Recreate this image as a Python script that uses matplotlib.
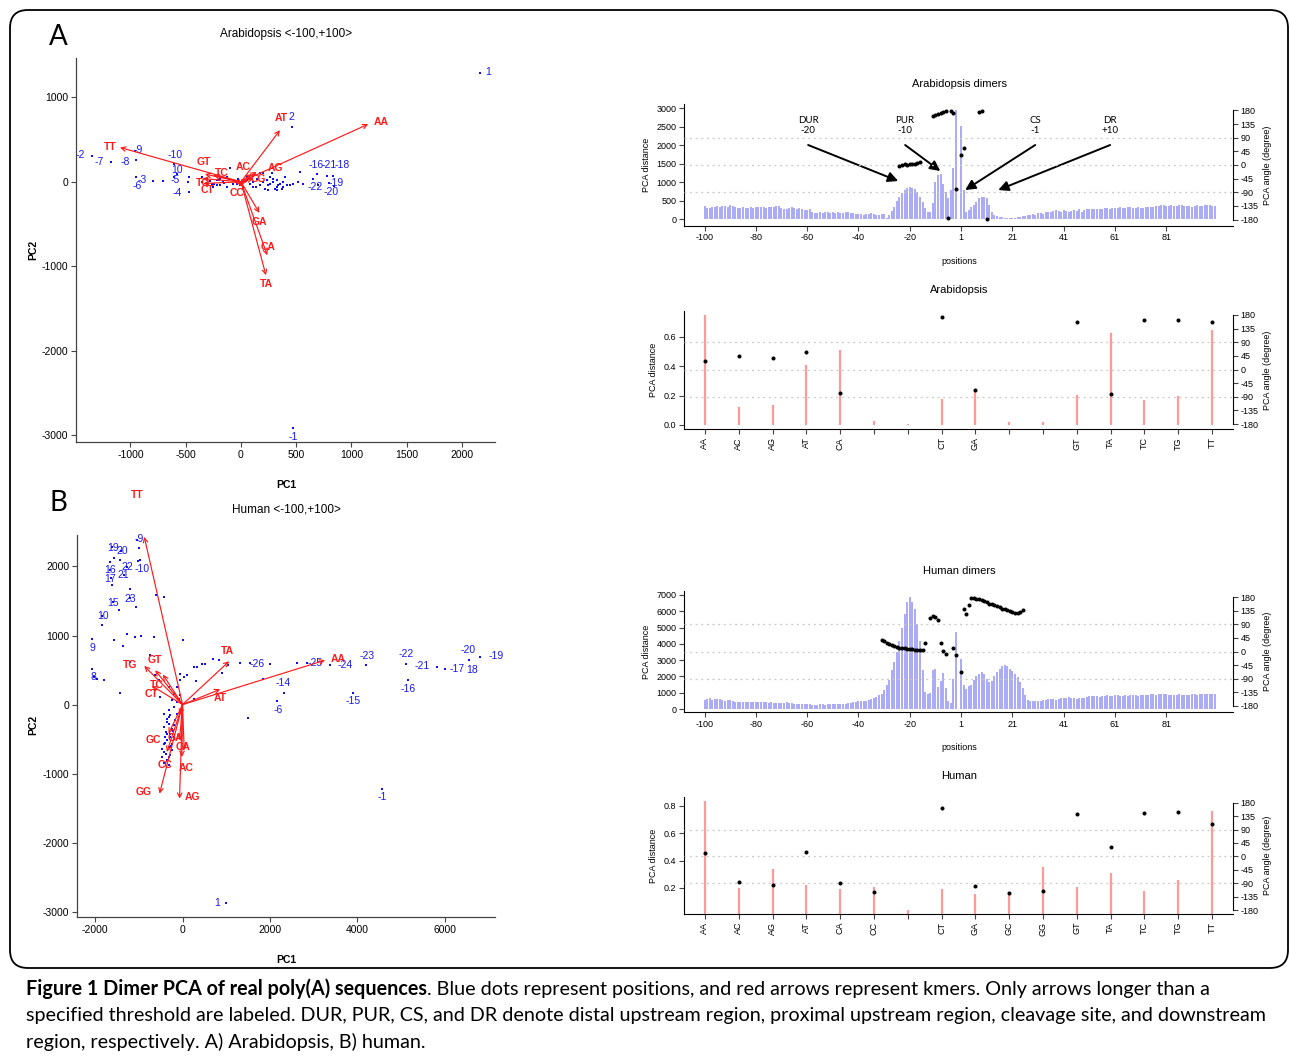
"""Dimer PCA of real poly(A) sequences: biplots plus distance/angle profiles."""

import matplotlib
matplotlib.use("Agg")
import matplotlib.pyplot as plt
import numpy as np
from matplotlib.patches import FancyBboxPatch

# ==============================================================================
# CONFIG
# ==============================================================================

W, H = 1290, 1057
DPI = 100
R_FONT = ["Liberation Sans", "DejaVu Sans"]
CAP_FONT = ["Lato", "Open Sans", "DejaVu Sans"]
BLUE_BAR = "#9393f4"
RED_BAR = "#ff9a9a"
GRID = "#c8c8c8"

# ==============================================================================
# DATA
# ==============================================================================

KMERS = ["AA", "AC", "AG", "AT", "CA", "CC", "CG", "CT",
         "GA", "GC", "GG", "GT", "TA", "TC", "TG", "TT"]

# positions -100..-1, 1..100 (no zero)
POSITIONS = list(range(-100, 0)) + list(range(1, 101))

ARA_DIST = [
    360, 300, 310, 320, 330, 340, 330, 350, 340, 330,
    380, 350, 320, 300, 310, 320, 300, 310, 320, 290,
    330, 320, 330, 320, 310, 330, 320, 330, 340, 350,
    300, 280, 260, 300, 330, 310, 280, 300, 280, 240,
    250, 260, 200, 160, 170, 180, 170, 190, 200, 170,
    180, 150, 190, 160, 170, 190, 200, 170, 160, 130,
    140, 130, 120, 140, 130, 150, 140, 120, 110, 130,
    130, 30, 120, 220, 330, 480, 600, 700, 780, 830,
    860, 850, 800, 720, 600, 470, 300, 200, 200, 420,
    1000, 1190, 1215, 960, 740, 560, 780, 1370, 2950, 0,
    2520, 780, 200, 240, 330, 380, 470, 560, 590, 600,
    560, 380, 180, 110, 80, 60, 50, 40, 40, 40,
    30, 40, 50, 60, 80, 90, 100, 120, 130, 120,
    150, 160, 140, 180, 200, 190, 220, 240, 230, 200,
    250, 230, 200, 220, 250, 230, 260, 200, 240, 270,
    280, 260, 270, 280, 270, 280, 300, 290, 280, 300,
    310, 300, 320, 310, 300, 330, 320, 310, 300, 320,
    310, 300, 320, 330, 320, 330, 340, 360, 380, 370,
    360, 350, 370, 360, 350, 370, 380, 360, 350, 340,
    330, 360, 370, 350, 360, 380, 390, 370, 360, 350,
]
ARA_ANG_POS = [-24, -23, -22, -21, -20, -19, -18, -17, -16,
               -11, -10, -9, -8, -7, -6, -5, -4, -3, -2, 1, 2, 8, 9, 11]
ARA_ANG = [-3, 1, 2, 1, 3, 4, 3, 6, 9,
           162, 165, 168, 170, 173, 177, -176, 179, 170, -78, 33, 57, 176, 178, -177]

HUM_DIST = [
    570, 600, 650, 580, 600, 620, 600, 560, 520, 580,
    560, 480, 400, 400, 420, 420, 430, 420, 440, 420,
    420, 440, 450, 440, 400, 380, 400, 390, 380, 390,
    380, 360, 400, 380, 370, 320, 280, 300, 290, 300,
    290, 300, 250, 230, 260, 300, 280, 250, 280, 300,
    290, 280, 300, 280, 320, 300, 340, 360, 400, 460,
    480, 470, 500, 520, 580, 620, 680, 750, 830, 950,
    1160, 1460, 1770, 2380, 2890, 3500, 4200, 5000, 5830, 6540,
    6850, 6540, 6140, 5220, 4200, 2380, 1060, 950, 1000, 2380,
    2480, 1360, 1730, 2240, 1260, 490, 350, 1870, 4750, 0,
    3090, 1500, 1220, 1400, 1500, 1800, 2000, 2170, 2300, 2170,
    1870, 1670, 1730, 2000, 2270, 2480, 2620, 2680, 2620, 2480,
    2340, 2170, 1970, 1670, 1300, 850, 550, 490, 480, 500,
    510, 520, 560, 580, 600, 610, 620, 560, 600, 650,
    660, 700, 720, 700, 680, 640, 690, 700, 680, 720,
    780, 800, 790, 780, 760, 800, 820, 840, 800, 820,
    860, 830, 800, 820, 840, 820, 830, 850, 830, 820,
    840, 870, 880, 860, 900, 910, 880, 900, 920, 900,
    910, 870, 880, 860, 880, 900, 880, 870, 890, 880,
    900, 910, 880, 900, 940, 930, 950, 940, 920, 900,
]
HUM_ANG_POS = [-31, -30, -29, -28, -27, -26, -25, -24, -23, -22, -21, -20, -19, -18, -17, -16, -15,
               -14, -12, -11, -10, -9, -8, -7, -6, -3, -2, 1,
               2, 3, 4, 5, 6, 7, 8, 9, 10, 11, 12, 13, 14, 15, 16, 17, 18, 19, 20,
               21, 22, 23, 24, 25]
HUM_ANG = [39, 34, 29, 25, 21, 18, 15, 13, 11, 10, 9, 8, 7, 6, 6, 5, 5,
           28, 110, 116, 114, 104, 29, 3, -8, 12, -13, -68,
           140, 125, 155, 178, 176, 174, 173, 170, 166, 163, 158, 157, 153, 149, 146, 142, 139, 136, 133,
           130, 128, 128, 130, 136]

ARA_KMER_DIST = [0.75, 0.125, 0.135, 0.41, 0.51, 0.03, 0.01, 0.175,
                 0.245, 0.02, 0.02, 0.205, 0.63, 0.17, 0.20, 0.65]
ARA_KMER_ANG = [29, 45, 37, 59, -78, None, None, 175,
                -69, None, None, 158, -80, 162, 162, 156]
ARA_KMER_TICKS = ["AA", "AC", "AG", "AT", "CA", "", "", "CT",
                  "GA", "", "", "GT", "TA", "TC", "TG", "TT"]

HUM_KMER_DIST = [0.835, 0.20, 0.34, 0.22, 0.19, 0.21, 0.04, 0.195,
                 0.155, 0.17, 0.35, 0.205, 0.31, 0.175, 0.26, 0.765]
HUM_KMER_ANG = [11, -87, -95, 15, -89, -120, None, 161,
                -98, -124, -115, 143, 31, 144, 149, 110]
HUM_KMER_TICKS = ["AA", "AC", "AG", "AT", "CA", "CC", "", "CT",
                  "GA", "GC", "GG", "GT", "TA", "TC", "TG", "TT"]

# biplot A (Arabidopsis): position scores
ARA_PC1 = [2163, 467, 458, -1351, -1180, -950, -960, -603, -582, -950, -793, -703, -603,
           -468, -468, 685, 775, 835, 655, 800, 840, 700,
           -356, -311, -265, -220, -160, -130, -100, -69, -24, -9, 51, 81, 112, 142, 172,
           202, 232, 248, 262, 293, 308, 323, 338, 353, 368, 383, 398, 413, 202, 277, 519,
           534, 564, 51, 112, 323, -130, -190, -250, -311, -356, -190, -220, -477, 172, 293,
           383, 443, 474, 248, 217, -39, -280, -240, -200, -150, -110, -60, 20, 140, 260, 330]
ARA_PC2 = [1291, -2911, 652, 308, 229, 257, 370, 209, 91, 59, 12, 12, 59,
           59, -118, 91, 71, 71, 39, -10, -50, -40,
           59, 39, -20, 20, 0, 59, 166, -20, 39, -39, 20, -20, 0, 39, -39,
           0, 20, -39, -20, 0, -79, 20, -39, -20, -79, 0, 59, -39, 99, 99, 0,
           118, -20, 59, -59, -99, -59, -39, -59, -20, 0, 39, -39, 0, 99, 39,
           -59, -39, -20, -99, -79, -20, 10, -30, 25, -15, 30, 5, -60, -60, 60, -60]
ARA_POS_LABELS = ["1", "-1", "2", "-2", "-7", "-8", "-9", "-10", "10", "-3", "-6",
                  "-5", "-4", "-16", "-21", "-18", "-22", "-19", "-20"]
ARA_LAB_PC1 = [2238, 474, 458, -1457, -1285, -1050, -929, -597, -582, -890, -944,
               -597, -576, 680, 800, 915, 670, 860, 820]
ARA_LAB_PC2 = [1295, -3021, 770, 316, 237, 237, 375, 316, 138, 20, -47,
               20, -138, 197, 197, 197, -59, -15, -125]

ARA_ARROW_PC1 = [1152, 97, 142, 353, 238, -9, 112, -341, 166, -60, 60, -326, 226, -250, -347, -1095]
ARA_ARROW_PC2 = [683, 91, 118, 612, -869, -59, 39, -20, -367, -10, 5, 91, -1106, 79, 39, 407]
ARA_ARROW_LABELS = ["AA", "AC", "AG", "AT", "CA", "CC", "CG", "CT",
                    "GA", "", "", "GT", "TA", "TC", "TG", "TT"]
ARA_ARROW_LAB_PC1 = [1273, 21, 314, 362, 241, -39, 157, -302, 166, 0, 0, -332, 232, -175, -347, -1186]
ARA_ARROW_LAB_PC2 = [703, 178, 158, 758, -770, -130, 28, -91, -474, 0, 0, 237, -1205, 99, -12, 415]

# biplot B (human): position scores
HUM_PC1 = [-1050, -1620, -1410, -1670, -1260, -1010, -1640, -1350, -1590, -1200, -1845, -2072, -2034,
           1547, 2842, 3375, 4198, 5105, 5813, 6550, 6804, 6000, 6560, 2310, 5166, 3910, 2170, 4556, 990,
           -1669, -1577, -1425, -1006, -983, -1615, -1196, -1463, -1844, -1059, -602, -434, -1577,
           -1272, -1082, -952, -648, -1364, -1196, -739, -2072, -1958, -1806, -1425, -510, -625,
           -548, -320, -206, -130, -53, 8, -53, 23, 99, 251, 328, 442, 518, 686, 823, 907, 1051,
           1318, 2004, 2613, 312, 251, 1493, 1836,
           -434, -358, -320, -434, -373, -282, -358, -434, -320, -419, -472, -358, -434, -282,
           -244, -244, -206, -244, -168, -130, -320, -206, -130, -91, -69, -244, -297, -411,
           -472, -320, -381, -190, -358, -282, -320, -400, -350, -300, -260, -220]
HUM_PC2 = [2390, 2280, 2230, 1950, 1990, 2080, 1830, 1870, 1480, 1540, 1285, 956, 401,
           604, 604, 570, 570, 585, 546, 650, 691, 520, 640, 174, 353, 174, 53, -1217, -2874,
           2068, 2130, 2092, 2261, 2092, 1729, 1667, 1367, 1150, 1415, 1585, 1551, 942,
           1019, 981, 990, 981, 850, 618, 715, 522, 377, 353, 174, 111, 425,
           353, 256, 159, 256, 353, 942, 449, 401, 435, 546, 546, 585, 585, 657, 643, 459, 570,
           604, 585, 604, 338, 87, -188, 367,
           -130, -203, -275, -324, -396, -420, -517, -565, -614, -686, -758, -807, -845, -734,
           -662, -565, -469, -348, -227, -130, -82, -34, 39, 87, 135, 63, -469, -469,
           -638, -879, -710, -300, -420, -155, -179, -560, -250, -760, -600, -380]
HUM_POS_LABELS = ["-9", "19", "20", "16", "22", "-10", "17", "21", "15", "23", "10", "9", "8",
                  "-26", "-25", "-24", "-23", "-22", "-21", "-20", "-19", "-17", "18",
                  "-14", "-16", "-15", "-6", "-1", "1"]
HUM_LAB_PC1 = [-983, -1600, -1370, -1669, -1257, -930, -1653, -1349, -1592, -1196, -1829, -2072, -2034,
               1699, 3032, 3718, 4213, 5105, 5470, 6537, 7170, 6270, 6629,
               2309, 5166, 3909, 2194, 4556, 785]
HUM_LAB_PC2 = [2391, 2271, 2227, 1947, 1986, 1957, 1816, 1874, 1478, 1536, 1285, 826, 401,
               594, 604, 570, 705, 729, 556, 787, 710, 522, 498,
               319, 232, 48, -82, -1338, -2870]

HUM_ARROW_PC1 = [3261, -15, -69, 861, 38, -358, -60, -701, -69, -320, -526, -625, 1067, -450, -876, -876]
HUM_ARROW_PC2 = [643, -758, -1362, 222, -662, -686, -150, 271, -517, -420, -1290, 498, 628, 435, 560, 2430]
HUM_ARROW_LABELS = ["AA", "AC", "AG", "AT", "CA", "CC", "", "CT",
                    "GA", "GC", "GG", "GT", "TA", "TC", "TG", "TT"]
HUM_ARROW_LAB_PC1 = [3566, 76, 236, 861, 23, -411, 0, -716, -168, -663, -891, -625, 1029, -587, -1196, -1044]
HUM_ARROW_LAB_PC2 = [667, -918, -1338, 97, -614, -870, 0, 159, -478, -517, -1266, 652, 778, 280, 580, 3034]

CAPTION_BOLD = "Figure 1 Dimer PCA of real poly(A) sequences"
CAPTION_LINES = [
    ". Blue dots represent positions, and red arrows represent kmers. Only arrows longer than a",
    "specified threshold are labeled. DUR, PUR, CS, and DR denote distal upstream region, "
    "proximal upstream region, cleavage site, and downstream",
    "region, respectively. A) Arabidopsis, B) human.",
]

# ==============================================================================
# HELPERS
# ==============================================================================


def px_axes(fig, left, top, right, bottom):
    """Add axes from pixel edges (origin top-left)."""
    return fig.add_axes([left / W, 1 - bottom / H, (right - left) / W, (bottom - top) / H])


def style_ticks(ax, size=7):
    ax.tick_params(labelsize=size, length=3.5, width=0.8, color="#444444", pad=2)
    for lab in ax.get_xticklabels() + ax.get_yticklabels():
        lab.set_family(R_FONT)


def plot_biplot(fig, rect, xlim, ylim, xticks, yticks, pc1, pc2, labs, lab_x, lab_y,
                arr_x, arr_y, arr_labs, arr_lab_x, arr_lab_y):
    ax = px_axes(fig, *rect)
    ax.set_xlim(xlim)
    ax.set_ylim(ylim)
    for side in ("top", "right"):
        ax.spines[side].set_visible(False)
    for side in ("left", "bottom"):
        ax.spines[side].set_linewidth(0.9)
        ax.spines[side].set_color("#444444")
    ax.set_xticks(xticks)
    ax.set_yticks(yticks)
    style_ticks(ax, 7.5)

    ax.scatter(pc1, pc2, s=4, marker="s", color="#1010ee", linewidths=0, zorder=2)
    for t, x, y in zip(labs, lab_x, lab_y):
        ax.text(x, y, t, color="#1a1aee", fontsize=7.5, family=R_FONT,
                ha="center", va="center", zorder=3)

    for x, y in zip(arr_x, arr_y):
        ax.annotate("", xy=(x, y), xytext=(0, 0),
                    arrowprops=dict(arrowstyle="->", color="#ff1a1a", lw=0.85,
                                    mutation_scale=8, shrinkA=0, shrinkB=0), zorder=4)
    for t, x, y in zip(arr_labs, arr_lab_x, arr_lab_y):
        if t:
            ax.text(x, y, t, color="#ff1a1a", fontsize=7.5, family=R_FONT,
                    fontweight="bold", ha="center", va="center", zorder=5)
    return ax


def add_angle_axis(ax, rlim):
    ax2 = ax.twinx()
    ax2.set_ylim(rlim)
    ax2.set_yticks(np.arange(-180, 181, 45))
    ax2.spines["right"].set_bounds(-180, 180)
    for side in ("top", "left", "bottom"):
        ax2.spines[side].set_visible(False)
    style_ticks(ax2, 6.5)
    ax2.set_ylabel("PCA angle (degree)", fontsize=6.5, family=R_FONT, labelpad=3)
    for g in (-90, 0, 90):
        ax2.axhline(g, color=GRID, ls=(0, (1.5, 3)), lw=0.9, zorder=0)
    return ax2


def plot_profile(fig, rect, dist, ang_pos, ang, ylim, yticks, annotate=False):
    ax = px_axes(fig, *rect)
    x = np.arange(len(POSITIONS))
    ax.vlines(x, 0, dist, color=BLUE_BAR, lw=1.1)
    ax.set_xlim(-8, 206)
    ax.set_ylim(ylim)
    ax.set_yticks(yticks)
    ax.set_xticks(x[::20])
    ax.set_xticklabels([str(p) for p in POSITIONS[::20]])
    ax.spines["top"].set_visible(False)
    ax.spines["right"].set_visible(False)
    style_ticks(ax, 6.5)
    ax.set_ylabel("PCA distance", fontsize=6.5, family=R_FONT, labelpad=4)

    ax2 = add_angle_axis(ax, (-200, 200))
    idx = [POSITIONS.index(p) for p in ang_pos]
    ax2.plot(idx, ang, "o", color="black", ms=1.9, zorder=3)

    if annotate:
        regions = [("DUR", "-20", 40.4, 75.5, 1027), ("PUR", "-10", 78.2, 91.9, 1297),
                   ("CS", "-1", 128.9, 101.6, 784), ("DR", "+10", 158.1, 114.5, 784)]
        for name, pos, xt, xtip, ytip in regions:
            ax.text(xt, 2540, f"{name}\n{pos}", ha="center", va="center", fontsize=7,
                    family=CAP_FONT, linespacing=1.15)
            ax.annotate("", xy=(xtip, ytip), xytext=(xt, 2000),
                        arrowprops=dict(arrowstyle="-|>", color="black", lw=1.4,
                                        mutation_scale=15, shrinkA=0, shrinkB=0))
    return ax


def plot_kmers(fig, rect, dist, ang, ticks, ylim, yticks, rlim):
    ax = px_axes(fig, *rect)
    x = np.arange(len(KMERS))
    ax.vlines(x, 0, dist, color=RED_BAR, lw=1.6)
    ax.set_xlim(-0.62, 15.62)
    ax.set_ylim(ylim)
    ax.set_yticks(yticks)
    ax.set_xticks(x)
    ax.set_xticklabels(ticks, rotation=90)
    ax.spines["top"].set_visible(False)
    ax.spines["right"].set_visible(False)
    style_ticks(ax, 6.5)
    ax.set_ylabel("PCA distance", fontsize=6.5, family=R_FONT, labelpad=4)

    ax2 = add_angle_axis(ax, rlim)
    pts = [(i, a) for i, a in enumerate(ang) if a is not None]
    ax2.plot([p[0] for p in pts], [p[1] for p in pts], "o", color="black", ms=1.9, zorder=3)
    return ax


def draw_caption(fig, bg, x0, ys, size=14.5):
    renderer = fig.canvas.get_renderer()
    bold = bg.text(x0, ys[0], CAPTION_BOLD, fontsize=size, fontweight="bold",
                   family=CAP_FONT, ha="left", va="baseline")
    bw = bold.get_window_extent(renderer).width
    bg.text(x0 + bw, ys[0], CAPTION_LINES[0], fontsize=size, family=CAP_FONT,
            ha="left", va="baseline")
    for line, y in zip(CAPTION_LINES[1:], ys[1:]):
        bg.text(x0, y, line, fontsize=size, family=CAP_FONT, ha="left", va="baseline")


# ==============================================================================
# MAIN
# ==============================================================================


def main():
    plt.rcParams["axes.unicode_minus"] = False
    plt.rcParams["font.family"] = R_FONT
    fig = plt.figure(figsize=(W / DPI, H / DPI), dpi=DPI)

    bg = fig.add_axes([0, 0, 1, 1], zorder=-5)
    bg.set_xlim(0, W)
    bg.set_ylim(H, 0)
    bg.axis("off")
    bg.add_patch(FancyBboxPatch((10, 10), 1278, 958, boxstyle="round,pad=0,rounding_size=18",
                                fill=False, lw=1.3, ec="black"))

    # panel A biplot
    plot_biplot(fig, (76, 58, 495, 442), (-1493, 2299), (-3080, 1466),
                [-1000, -500, 0, 500, 1000, 1500, 2000], [-3000, -2000, -1000, 0, 1000],
                ARA_PC1, ARA_PC2, ARA_POS_LABELS, ARA_LAB_PC1, ARA_LAB_PC2,
                ARA_ARROW_PC1, ARA_ARROW_PC2, ARA_ARROW_LABELS, ARA_ARROW_LAB_PC1, ARA_ARROW_LAB_PC2)
    # panel B biplot
    plot_biplot(fig, (77, 535, 495, 917), (-2414, 7147), (-3076, 2456),
                [-2000, 0, 2000, 4000, 6000], [-3000, -2000, -1000, 0, 1000, 2000],
                HUM_PC1, HUM_PC2, HUM_POS_LABELS, HUM_LAB_PC1, HUM_LAB_PC2,
                HUM_ARROW_PC1, HUM_ARROW_PC2, HUM_ARROW_LABELS, HUM_ARROW_LAB_PC1, HUM_ARROW_LAB_PC2)

    # profiles
    plot_profile(fig, (684, 104.3, 1233, 225.7), ARA_DIST, ARA_ANG_POS, ARA_ANG,
                 (-180, 3100), np.arange(0, 3001, 500), annotate=True)
    plot_kmers(fig, (684, 310.6, 1233, 429.4), ARA_KMER_DIST, ARA_KMER_ANG, ARA_KMER_TICKS,
               (-0.03, 0.78), [0.0, 0.2, 0.4, 0.6], (-197.8, 194.5))
    plot_profile(fig, (684, 591, 1233, 712), HUM_DIST, HUM_ANG_POS, HUM_ANG,
                 (-184, 7244), np.arange(0, 7001, 1000))
    plot_kmers(fig, (684, 796.8, 1233, 914.2), HUM_KMER_DIST, HUM_KMER_ANG, HUM_KMER_TICKS,
               (0.008, 0.867), [0.2, 0.4, 0.6, 0.8], (-194, 200))

    # titles and axis labels in pixel space
    txt = dict(ha="center", va="center", family=R_FONT)
    bg.text(58, 37, "A", fontsize=20, family=CAP_FONT, ha="center", va="center")
    bg.text(58, 503, "B", fontsize=20, family=CAP_FONT, ha="center", va="center")
    bg.text(286, 34, "Arabidopsis <-100,+100>", fontsize=8.5, **txt)
    bg.text(286, 510, "Human <-100,+100>", fontsize=8.5, **txt)
    bg.text(286, 485, "PC1", fontsize=7.5, fontweight="bold", **txt)
    bg.text(286, 960, "PC1", fontsize=7.5, fontweight="bold", **txt)
    bg.text(33, 250, "PC2", fontsize=7.5, fontweight="bold", rotation=90, **txt)
    bg.text(33, 725, "PC2", fontsize=7.5, fontweight="bold", rotation=90, **txt)
    bg.text(959, 84, "Arabidopsis dimers", fontsize=8, **txt)
    bg.text(959, 290, "Arabidopsis", fontsize=8, **txt)
    bg.text(959, 571, "Human dimers", fontsize=8, **txt)
    bg.text(959, 776, "Human", fontsize=8, **txt)
    bg.text(959, 261, "positions", fontsize=6.5, **txt)
    bg.text(959, 747, "positions", fontsize=6.5, **txt)

    draw_caption(fig, bg, 26, [995, 1021, 1048], size=14.2)

    fig.savefig("out.png", dpi=DPI)
    plt.close(fig)


if __name__ == "__main__":
    main()
